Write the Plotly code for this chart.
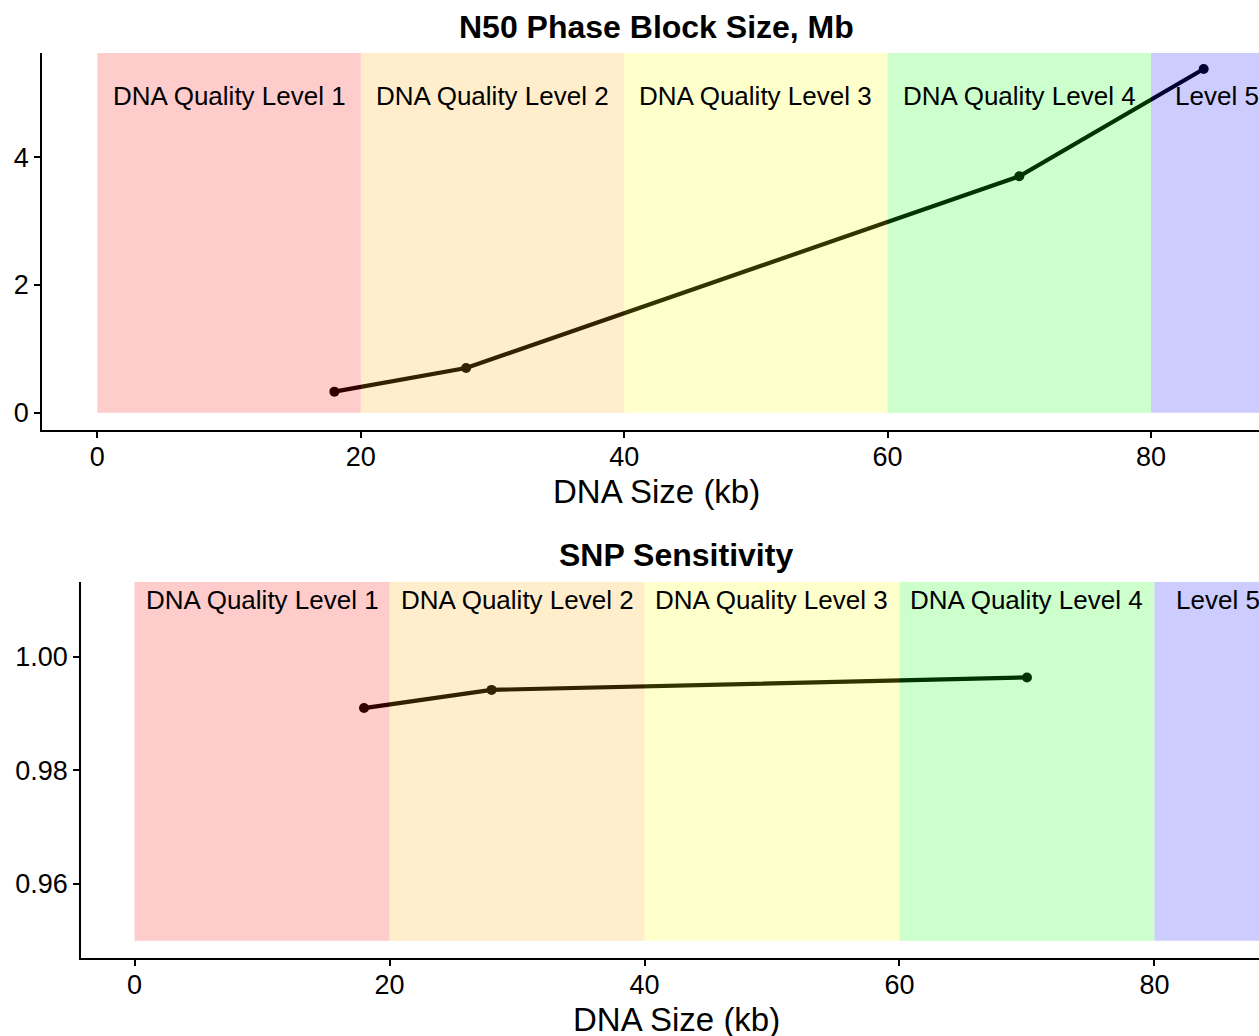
import plotly.graph_objects as go

# ---- data ----
size_kb = [18, 28, 70, 84]
n50_mb = [0.33, 0.70, 3.70, 5.38]

snp_size_kb = [18, 28, 70]
snp_sensitivity = [0.9910, 0.9942, 0.9964]

level_starts = [0, 20, 40, 60, 80]
level_ends = [20, 40, 60, 80, None]  # None -> to edge of panel
level_colors = ["red", "orange", "yellow", "lime", "blue"]
level_labels = ["DNA Quality Level 1", "DNA Quality Level 2", "DNA Quality Level 3",
                "DNA Quality Level 4", "Level 5"]
level_label_x = [10, 30, 50, 70, 85]

x_ticks = [0, 20, 40, 60, 80]
top_y_ticks = [0, 2, 4]
bot_y_ticks = [0.96, 0.98, 1.00]

W, H = 1259, 1036
FONT = "Liberation Sans, Arial, Helvetica, sans-serif"

x_range = [-4.2, 88.2]
top_y_range = [-0.27, 5.63]
bot_y_range = [0.9470, 1.01327]
top_base = 0.0
bot_base = 0.95
top_label_y = 4.96
bot_label_y = 1.0100

def px(x):
    return x / W

def py(y):
    return 1 - y / H

fig = go.Figure()

fig.add_trace(go.Scatter(
    x=size_kb, y=n50_mb, mode="lines+markers",
    line=dict(color="black", width=4.2),
    marker=dict(color="black", size=10),
    xaxis="x", yaxis="y", showlegend=False, hoverinfo="x+y"))

fig.add_trace(go.Scatter(
    x=snp_size_kb, y=snp_sensitivity, mode="lines+markers",
    line=dict(color="black", width=4.2),
    marker=dict(color="black", size=10),
    xaxis="x2", yaxis="y2", showlegend=False, hoverinfo="x+y"))

shapes = []
annotations = []
for xs, xe, col, lab, lx in zip(level_starts, level_ends, level_colors, level_labels, level_label_x):
    xe_val = x_range[1] if xe is None else xe
    shapes.append(dict(type="rect", xref="x", yref="y", x0=xs, x1=xe_val,
                       y0=top_base, y1=top_y_range[1], fillcolor=col, opacity=0.2,
                       line=dict(width=0), layer="above"))
    shapes.append(dict(type="rect", xref="x2", yref="y2", x0=xs, x1=xe_val,
                       y0=bot_base, y1=bot_y_range[1], fillcolor=col, opacity=0.2,
                       line=dict(width=0), layer="above"))
    annotations.append(dict(x=lx, y=top_label_y, xref="x", yref="y", text=lab,
                            xanchor="center", yanchor="middle",
                            showarrow=False, font=dict(size=26, color="black", family=FONT)))
    annotations.append(dict(x=lx, y=bot_label_y, xref="x2", yref="y2", text=lab,
                            xanchor="center", yanchor="middle",
                            showarrow=False, font=dict(size=26, color="black", family=FONT)))

# titles
def title_ann(x, y, text, size):
    return dict(x=px(x), y=py(y), xref="paper", yref="paper", text=text,
                xanchor="center", yanchor="middle", showarrow=False,
                font=dict(size=size, color="black", family=FONT))

annotations += [
    title_ann(656, 27, "<b>N50 Phase Block Size, Mb</b>", 32),
    title_ann(676, 555, "<b>SNP Sensitivity</b>", 32),
    title_ann(656, 492, "DNA Size (kb)", 33),
    title_ann(676, 1019, "DNA Size (kb)", 33),
]

axis_common = dict(showgrid=False, zeroline=False, showline=True, linecolor="black",
                   linewidth=1.6, ticks="outside", ticklen=6, tickwidth=1.6,
                   tickcolor="black", tickfont=dict(size=27, color="black", family=FONT),
                   automargin=False, fixedrange=True)

fig.update_layout(
    width=W, height=H,
    margin=dict(l=0, r=0, t=0, b=0),
    paper_bgcolor="white", plot_bgcolor="white",
    font=dict(family=FONT, color="black"),
    xaxis=dict(domain=[px(42), 1.0], range=x_range, anchor="y",
               tickvals=x_ticks, ticklabelstandoff=-4, **axis_common),
    yaxis=dict(domain=[py(430), py(53)], range=top_y_range, anchor="x",
               tickvals=top_y_ticks, **axis_common),
    xaxis2=dict(domain=[px(81), 1.0], range=x_range, anchor="y2",
                tickvals=x_ticks, ticklabelstandoff=-4, **axis_common),
    yaxis2=dict(domain=[py(957.7), py(581.7)], range=bot_y_range, anchor="x2",
                tickvals=bot_y_ticks, tickformat=".2f", **axis_common),
    shapes=shapes,
    annotations=annotations,
)

fig.write_html("out.html", config={"displayModeBar": False},
               post_script="document.body.style.margin='0';document.body.style.overflow='hidden';")
